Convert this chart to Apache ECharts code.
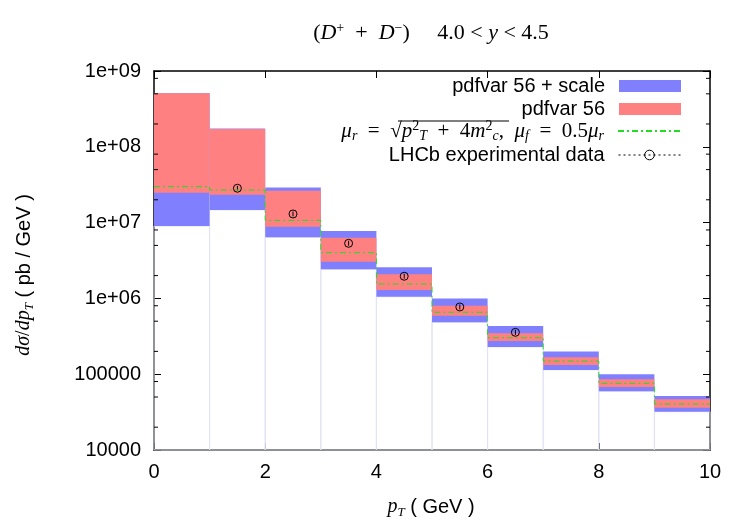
<!DOCTYPE html>
<html>
<head>
<meta charset="utf-8">
<script src="https://cdn.jsdelivr.net/npm/echarts@6/dist/echarts.min.js"></script>
<style>
  html, body { margin: 0; padding: 0; background: #fff; }
  #chart { width: 750px; height: 525px; }
</style>
</head>
<body>
<div id="chart"></div>
<script>
// pT bins (GeV)
var binLo = [0, 1, 2, 3, 4, 5, 6, 7, 8, 9];
var binHi = [1, 2, 3, 4, 5, 6, 7, 8, 9, 10];
// pdfvar 56 + scale band
var scaleLo = [9.0e6, 1.47e7, 6.4e6, 2.42e6, 1.05e6, 4.84e5, 2.29e5, 1.14e5, 5.95e4, 3.2e4];
var scaleHi = [5.08e8, 1.75e8, 2.9e7, 7.75e6, 2.57e6, 1.0e6, 4.33e5, 2.0e5, 9.98e4, 5.16e4];
// pdfvar 56 band
var pdfLo = [2.48e7, 2.33e7, 8.83e6, 3.05e6, 1.29e6, 5.92e5, 2.74e5, 1.32e5, 6.78e4, 3.61e4];
var pdfHi = [5.08e8, 1.72e8, 2.63e7, 6.32e6, 2.08e6, 8.01e5, 3.47e5, 1.67e5, 8.57e4, 4.66e4];
// central scale choice
var central = [2.98e7, 2.69e7, 1.07e7, 4.01e6, 1.55e6, 6.56e5, 3.03e5, 1.49e5, 7.59e4, 4.04e4];
// LHCb data
var dataX = [1.5, 2.5, 3.5, 4.5, 5.5, 6.5];
var dataY = [2.84e7, 1.30e7, 5.33e6, 1.96e6, 7.71e5, 3.57e5];
var dataErrLo = [2.65e7, 1.21e7, 4.95e6, 1.82e6, 7.15e5, 3.30e5];
var dataErrHi = [3.05e7, 1.40e7, 5.75e6, 2.11e6, 8.30e5, 3.87e5];
// axis labels
var yTickLabels = ['10000', '100000', '1e+06', '1e+07', '1e+08', '1e+09'];
var yMinorTicks = [2e4, 5e4, 8e4, 2e5, 5e5, 8e5, 2e6, 5e6, 8e6, 2e7, 5e7, 8e7, 2e8, 5e8, 8e8];

var SANS = 'Liberation Sans';
var SERIF = 'Liberation Serif';

function mathStyles(size) {
  var small = Math.round(size * 0.65);
  return {
    i: { fontFamily: SERIF, fontStyle: 'italic', fontSize: size, lineHeight: 24, color: '#000' },
    n: { fontFamily: SERIF, fontSize: size, lineHeight: 24, color: '#000' },
    s: { fontFamily: SANS, fontSize: 20, lineHeight: 24, color: '#000' },
    sb: { fontFamily: SERIF, fontStyle: 'italic', fontSize: small, lineHeight: 10, verticalAlign: 'bottom', color: '#000' },
    sp: { fontFamily: SERIF, fontSize: small, lineHeight: 14, verticalAlign: 'top', color: '#000' }
  };
}
var mathRich = mathStyles(20);

function bandData(lo, hi) {
  return binLo.map(function (x, i) { return [x, binHi[i], lo[i], hi[i]]; });
}

function renderBand(params, api) {
  var p0 = api.coord([api.value(0), api.value(3)]);
  var p1 = api.coord([api.value(1), api.value(2)]);
  return {
    type: 'rect',
    shape: { x: p0[0], y: p0[1], width: p1[0] - p0[0], height: p1[1] - p0[1] },
    style: { fill: api.visual('color') }
  };
}

// white boxes from the bottom of the frame up to the band (faint edges)
function renderBase(params, api) {
  var p0 = api.coord([api.value(0), api.value(3)]);
  var p1 = api.coord([api.value(1), 1e4]);
  return {
    type: 'rect',
    shape: { x: p0[0], y: p0[1], width: p1[0] - p0[0], height: p1[1] - p0[1] },
    style: { fill: 'none', stroke: '#e2e2f4', lineWidth: 1 }
  };
}

var stepData = binLo.map(function (x, i) { return [x, central[i]]; });
stepData.push([binHi[binHi.length - 1], central[central.length - 1]]);

var myChart = echarts.init(document.getElementById('chart'));

var axisCommon = {
  axisLine: { show: true, onZero: false, lineStyle: { color: '#000', width: 1.5 } },
  axisTick: { show: true, inside: true, length: 7, lineStyle: { color: '#000', width: 1 } },
  splitLine: { show: false }
};

function legendOf(name, top, extra) {
  var lg = {
    right: 69, top: top, orient: 'vertical', align: 'right', padding: 0,
    itemWidth: 62, itemHeight: 12, itemGap: 0, selectedMode: false,
    data: [name],
    textStyle: { fontFamily: SANS, fontSize: 20, lineHeight: 24, color: '#000', padding: [0, 9, 0, 0] }
  };
  for (var k in extra) lg[k] = extra[k];
  return lg;
}

var option = {
  animation: false,
  backgroundColor: '#fff',
  grid: { left: 154, right: 40, top: 71, bottom: 75 },
  xAxis: [
    Object.assign({
      type: 'value', min: 0, max: 10, interval: 2, position: 'bottom',
      axisLabel: { margin: 12, fontFamily: SANS, fontSize: 20, color: '#000' }
    }, axisCommon),
    Object.assign({
      type: 'value', min: 0, max: 10, interval: 2, position: 'top',
      axisLabel: { show: false }
    }, axisCommon)
  ],
  yAxis: [
    Object.assign({
      type: 'log', logBase: 10, min: 1e4, max: 1e9, position: 'left',
      axisLabel: {
        margin: 13, fontFamily: SANS, fontSize: 20, color: '#000',
        formatter: function (v) { return yTickLabels[Math.round(Math.log10(v)) - 4]; }
      }
    }, axisCommon),
    Object.assign({
      type: 'log', logBase: 10, min: 1e4, max: 1e9, position: 'right',
      axisLabel: { show: false }
    }, axisCommon)
  ],
  legend: [
    legendOf({ name: 'pdfvar 56 + scale', icon: 'rect', itemStyle: { color: '#8080ff' } }, 74),
    legendOf({ name: 'pdfvar 56', icon: 'rect', itemStyle: { color: '#ff8080' } }, 97),
    legendOf({ name: 'central', itemStyle: { opacity: 0 } }, 119, {
      formatter: function () {
        return '{i|μ}{sb|r}{n|  =  √}{i|p}{sp|2}{sb|T}{n|  +  4}{i|m}{sp|2}{sb|c}{n|,  }{i|μ}{sb|f}{n|  =  0.5}{i|μ}{sb|r}';
      },
      textStyle: { fontFamily: SERIF, fontSize: 21, lineHeight: 24, color: '#000', padding: [0, 9, 0, 0], rich: mathStyles(21) }
    }),
    legendOf({ name: 'LHCb experimental data' }, 143, {
      lineStyle: { color: '#000', width: 1, type: [2, 3], opacity: 1 },
      itemStyle: { color: 'transparent', borderColor: '#000', borderWidth: 1 }
    })
  ],
  graphic: [
    {
      type: 'text', x: 431, y: 33,
      style: {
        text: '{n|(}{i|D}{sp|+}{n|  +  }{i|D}{sp|−}{n|)}{n|     4.0 < }{i|y}{n| < 4.5}',
        rich: mathStyles(22), align: 'center', verticalAlign: 'middle'
      }
    },
    // bar of the square root in the legend formula
    {
      type: 'line', shape: { x1: 398, y1: 121, x2: 509, y2: 121 },
      style: { stroke: '#000', lineWidth: 1 }
    },
    {
      type: 'text', x: 431, y: 507,
      style: {
        text: '{i|p}{sb|T}{s| ( GeV )}',
        rich: mathRich, align: 'center', verticalAlign: 'middle'
      }
    },
    {
      type: 'text', x: 24, y: 275, rotation: Math.PI / 2,
      style: {
        text: '{i|dσ}{n|/}{i|dp}{sb|T}{s| ( pb / GeV )}',
        rich: mathRich, align: 'center', verticalAlign: 'middle'
      }
    }
  ],
  series: [
    {
      name: 'base', type: 'custom', silent: true, renderItem: renderBase,
      encode: { x: [0, 1], y: [2, 3] },
      data: bandData(scaleLo, scaleLo)
    },
    {
      name: 'pdfvar 56 + scale', type: 'custom', renderItem: renderBand,
      itemStyle: { color: '#8080ff' },
      encode: { x: [0, 1], y: [2, 3] },
      data: bandData(scaleLo, scaleHi)
    },
    {
      name: 'pdfvar 56', type: 'custom', renderItem: renderBand,
      itemStyle: { color: '#ff8080' },
      encode: { x: [0, 1], y: [2, 3] },
      data: bandData(pdfLo, pdfHi)
    },
    {
      name: 'central', type: 'line', step: 'end', symbol: 'none',
      lineStyle: { color: '#22dd22', width: 1, type: [6, 3, 2, 3] },
      itemStyle: { color: '#22dd22' },
      data: stepData
    },
    {
      name: 'errors', type: 'custom', silent: true,
      encode: { x: 0, y: [1, 2] },
      renderItem: function (params, api) {
        var a = api.coord([api.value(0), api.value(1)]);
        var b = api.coord([api.value(0), api.value(2)]);
        return { type: 'line', shape: { x1: a[0], y1: a[1], x2: b[0], y2: b[1] }, style: { stroke: '#000', lineWidth: 1 } };
      },
      data: dataX.map(function (x, i) { return [x, dataErrLo[i], dataErrHi[i]]; })
    },
    {
      name: 'LHCb experimental data', type: 'line',
      symbol: 'circle', symbolSize: 8,
      itemStyle: { color: 'transparent', borderColor: '#000', borderWidth: 1 },
      lineStyle: { width: 0, opacity: 0 },
      data: dataX.map(function (x, i) { return [x, dataY[i]]; })
    },
    {
      name: 'minor ticks', type: 'custom', silent: true,
      encode: { x: 0, y: 1 },
      renderItem: function (params, api) {
        var y = api.coord([0, api.value(1)])[1];
        var cs = params.coordSys;
        return {
          type: 'group',
          children: [
            { type: 'line', shape: { x1: cs.x, y1: y, x2: cs.x + 4, y2: y }, style: { stroke: '#000', lineWidth: 1 } },
            { type: 'line', shape: { x1: cs.x + cs.width - 4, y1: y, x2: cs.x + cs.width, y2: y }, style: { stroke: '#000', lineWidth: 1 } }
          ]
        };
      },
      data: yMinorTicks.map(function (v) { return [0, v]; })
    }
  ]
};

myChart.setOption(option);
</script>
</body>
</html>
